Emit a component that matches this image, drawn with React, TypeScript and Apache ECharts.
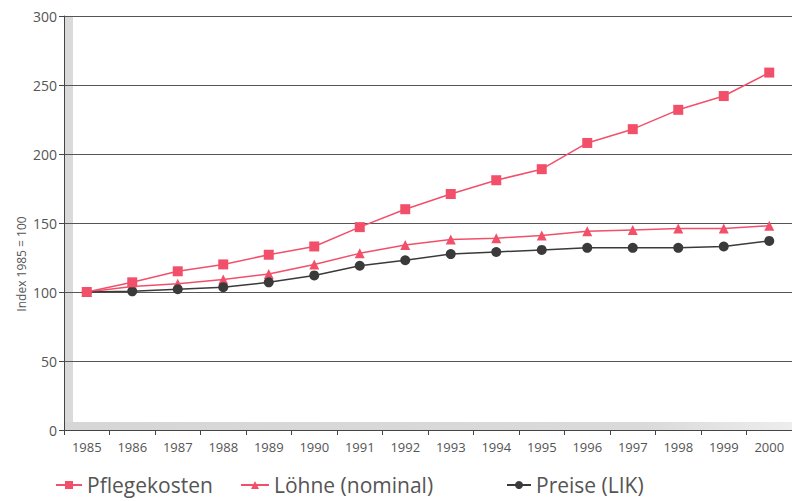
import React, { useEffect, useRef } from "react";
import * as echarts from "echarts";

const years = ["1985", "1986", "1987", "1988", "1989", "1990", "1991", "1992", "1993", "1994", "1995", "1996", "1997", "1998", "1999", "2000"];
const pflegekosten = [100, 107, 115, 120, 127, 133, 147, 160, 171, 181, 189, 208, 218, 232, 242, 259];
const loehne = [100, 104, 106, 109, 113, 120, 128, 134, 138, 139, 141, 144, 145, 146, 146, 148];
const preise = [100, 100.5, 102, 103.5, 107, 112, 119, 123, 127.5, 129, 130.5, 132, 132, 132, 133, 137];
const yTicks = [0, 50, 100, 150, 200, 250, 300];

const PINK = "#f2506a";
const DARK = "#3a3a3a";
const FONT = "'Open Sans', 'DejaVu Sans', sans-serif";

export default function App() {
  const ref = useRef<HTMLDivElement>(null);
  useEffect(() => {
    if (!ref.current) return;
    const chart = echarts.init(ref.current, null, { renderer: "svg" });
    const legendText = { color: "#555", fontSize: 21, lineHeight: 24, fontFamily: FONT };
    chart.setOption({
      animation: false,
      backgroundColor: "#ffffff",
      grid: { left: 64, right: 0, top: 16, bottom: 71, containLabel: false },
      graphic: [
        {
          type: "rect",
          z: 0,
          shape: { x: 65, y: 16, width: 8, height: 414 },
          style: { fill: "#dadada" },
        },
        {
          type: "rect",
          z: 0,
          shape: { x: 65, y: 422, width: 727, height: 8 },
          style: {
            fill: new echarts.graphic.LinearGradient(0, 0, 1, 0, [
              { offset: 0, color: "#d6d6d6" },
              { offset: 0.8, color: "#dadada" },
              { offset: 1, color: "#ededed" },
            ]),
          },
        },
        {
          type: "text",
          x: 21,
          y: 264,
          rotation: Math.PI / 2,
          style: {
            text: "Index 1985 = 100",
            fill: "#555",
            fontSize: 12,
            fontFamily: FONT,
            align: "center",
            verticalAlign: "middle",
          },
        },
      ],
      legend: [
        {
          left: 50,
          top: 473,
          padding: [0, 5, 0, 5],
          itemWidth: 26,
          itemHeight: 10,
          textStyle: legendText,
          data: ["Pflegekosten"],
        },
        {
          left: 235,
          top: 473,
          padding: [0, 5, 0, 5],
          itemWidth: 28,
          itemHeight: 10,
          textStyle: legendText,
          data: ["Löhne (nominal)"],
        },
        {
          left: 501,
          top: 473,
          padding: [0, 5, 0, 5],
          itemWidth: 24,
          itemHeight: 10,
          textStyle: legendText,
          data: ["Preise (LIK)"],
        },
      ],
      xAxis: {
        type: "category",
        data: years,
        boundaryGap: true,
        axisLine: { lineStyle: { color: "#444", width: 1 } },
        axisTick: { show: true, length: 5, lineStyle: { color: "#444" } },
        axisLabel: { color: "#555", fontSize: 13, fontFamily: FONT, margin: 10 },
        splitLine: { show: false },
      },
      yAxis: {
        type: "value",
        min: 0,
        max: 300,
        interval: 50,
        axisLine: { show: true, lineStyle: { color: "#444", width: 1 } },
        axisTick: { show: true, length: 5, lineStyle: { color: "#444" } },
        axisLabel: {
          color: "#555",
          fontSize: 14,
          fontFamily: FONT,
          margin: 7,
          formatter: (v: number) => (yTicks.includes(v) ? String(v) : ""),
        },
        splitLine: { show: true, lineStyle: { color: "#555", width: 1 } },
      },
      series: [
        {
          name: "Pflegekosten",
          type: "line",
          data: pflegekosten,
          symbol: "rect",
          symbolSize: 10,
          lineStyle: { color: PINK, width: 1.5 },
          itemStyle: { color: PINK },
          z: 4,
        },
        {
          name: "Löhne (nominal)",
          type: "line",
          data: loehne,
          symbol: "triangle",
          symbolSize: 10,
          lineStyle: { color: PINK, width: 1.5 },
          itemStyle: { color: PINK },
          z: 3,
        },
        {
          name: "Preise (LIK)",
          type: "line",
          data: preise,
          symbol: "circle",
          symbolSize: 10,
          lineStyle: { color: DARK, width: 1.5 },
          itemStyle: { color: DARK },
          z: 3,
        },
      ],
    });
    return () => chart.dispose();
  }, []);
  return (
    <div
      ref={ref}
      style={{ position: "absolute", left: 0, top: 0, width: 792, height: 501 }}
    />
  );
}
